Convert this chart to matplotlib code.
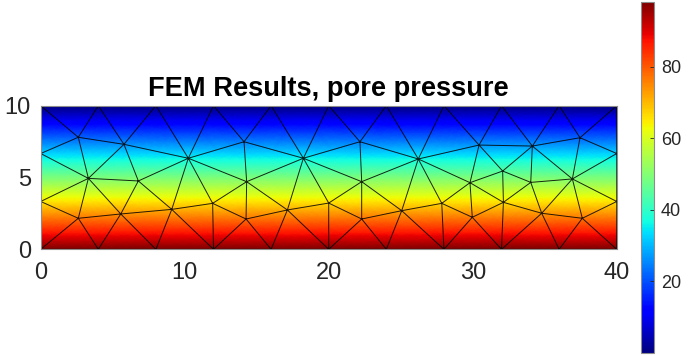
import matplotlib
matplotlib.use("Agg")
import matplotlib.pyplot as plt
import matplotlib.tri as mtri

plt.rcParams["font.family"] = ["Liberation Sans", "DejaVu Sans"]

# mesh nodes: bottom edge, top edge, left/right edges, then interior nodes
node_x = [0, 4, 8, 12, 16, 20, 24, 28, 32, 36, 40,
          0, 4, 8, 12, 16, 20, 24, 28, 32, 36, 40,
          0, 0, 40, 40,
          2.61, 5.78, 10.25, 14.12, 18.24, 3.31, 6.78, 14.30,
          2.61, 5.56, 9.10, 11.94, 14.26, 17.13, 20.00,
          22.17, 26.22, 30.44, 34.14, 37.45,
          22.29, 29.81, 32.08, 34.03, 36.92,
          22.29, 25.07, 27.85, 29.97, 32.13, 34.79, 37.61]
node_y = [0, 0, 0, 0, 0, 0, 0, 0, 0, 0, 0,
          10, 10, 10, 10, 10, 10, 10, 10, 10, 10, 10,
          3.33, 6.67, 3.33, 6.67,
          7.80, 7.31, 6.34, 7.49, 6.34, 4.94, 4.76, 4.71,
          2.16, 2.46, 2.78, 3.20, 2.11, 2.74, 3.22,
          7.49, 6.29, 7.26, 7.19, 7.77,
          4.71, 4.64, 5.45, 4.66, 4.90,
          2.11, 2.69, 3.20, 2.23, 3.27, 2.51, 2.16]

# nodal pore pressure
pressure = [98.1, 98.1, 98.1, 98.1, 98.1, 98.1, 98.1, 98.1, 98.1, 98.1, 98.1,
            0, 0, 0, 0, 0, 0, 0, 0, 0, 0, 0,
            65.4, 32.7, 65.4, 32.7,
            21.6, 26.4, 35.9, 24.6, 35.9, 49.6, 51.4, 51.9,
            76.9, 74.0, 70.8, 66.7, 77.4, 71.2, 66.5,
            24.6, 36.4, 26.9, 27.6, 21.9,
            51.9, 52.6, 44.6, 52.4, 50.0,
            77.4, 71.7, 66.7, 76.2, 66.0, 73.5, 76.9]

p_min, p_max = 0.0, 98.1
cbar_ticks = [20, 40, 60, 80]
xticks = [0, 10, 20, 30, 40]
yticks = [0, 5, 10]

text_color = "#262626"

fig = plt.figure(figsize=(6.9, 3.56), dpi=100)
ax = fig.add_axes([0.059, 0.2997, 0.8348, 0.4034])

tri = mtri.Triangulation(node_x, node_y)
# interpolate the pressure (not the colours) inside each element
refiner = mtri.UniformTriRefiner(tri)
fine_tri, fine_p = refiner.refine_field(pressure, subdiv=5)
pc = ax.tripcolor(fine_tri, fine_p, shading="gouraud", cmap="jet",
                  vmin=p_min, vmax=p_max)
ax.triplot(tri, color="black", linewidth=0.7, alpha=0.85)

ax.set_xlim(0, 40)
ax.set_ylim(0, 10)
ax.set_xticks(xticks)
ax.set_yticks(yticks)
ax.tick_params(length=0, labelsize=17, colors=text_color)
ax.tick_params(axis="x", pad=9)
ax.tick_params(axis="y", pad=7)
for s in ax.spines.values():
    s.set_color("0.55")
    s.set_linewidth(0.8)
ax.set_title("FEM Results, pore pressure", fontsize=19.6, fontweight="bold",
             pad=7, color="black")

cax = fig.add_axes([0.929, 0.0084, 0.0188, 0.986])
cb = fig.colorbar(pc, cax=cax, ticks=cbar_ticks)
cb.outline.set_edgecolor("0.55")
cb.outline.set_linewidth(0.8)
cax.tick_params(direction="in", length=3, width=0.6, labelsize=13,
                colors=text_color, pad=5)

fig.savefig("out.png", dpi=100)
